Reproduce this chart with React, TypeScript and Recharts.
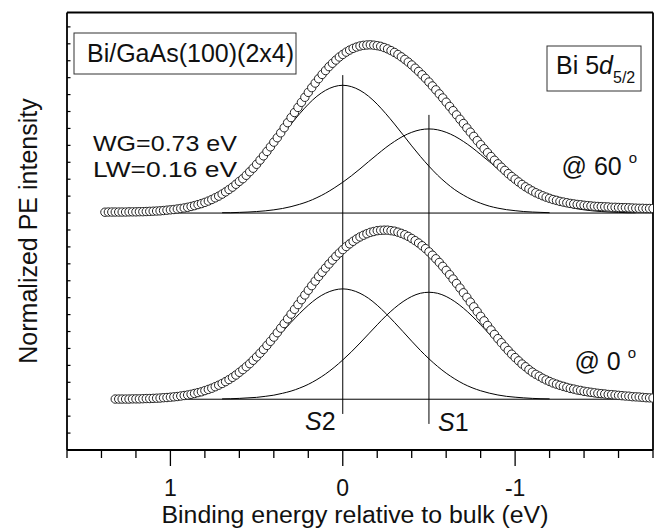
import {ComposedChart, Line, XAxis, YAxis, ReferenceLine} from 'recharts';

// binding energy grid of the measured points (eV, relative to bulk)
const energy = [
    1.38, 1.36, 1.34, 1.32, 1.30, 1.28, 1.26, 1.24, 1.22, 1.20,
    1.18, 1.16, 1.14, 1.12, 1.10, 1.08, 1.06, 1.04, 1.02, 1.00,
    0.98, 0.96, 0.94, 0.92, 0.90, 0.88, 0.86, 0.84, 0.82, 0.80,
    0.78, 0.76, 0.74, 0.72, 0.70, 0.68, 0.66, 0.64, 0.62, 0.60,
    0.58, 0.56, 0.54, 0.52, 0.50, 0.48, 0.46, 0.44, 0.42, 0.40,
    0.38, 0.36, 0.34, 0.32, 0.30, 0.28, 0.26, 0.24, 0.22, 0.20,
    0.18, 0.16, 0.14, 0.12, 0.10, 0.08, 0.06, 0.04, 0.02, 0.00,
    -0.02, -0.04, -0.06, -0.08, -0.10, -0.12, -0.14, -0.16, -0.18, -0.20,
    -0.22, -0.24, -0.26, -0.28, -0.30, -0.32, -0.34, -0.36, -0.38, -0.40,
    -0.42, -0.44, -0.46, -0.48, -0.50, -0.52, -0.54, -0.56, -0.58, -0.60,
    -0.62, -0.64, -0.66, -0.68, -0.70, -0.72, -0.74, -0.76, -0.78, -0.80,
    -0.82, -0.84, -0.86, -0.88, -0.90, -0.92, -0.94, -0.96, -0.98, -1.00,
    -1.02, -1.04, -1.06, -1.08, -1.10, -1.12, -1.14, -1.16, -1.18, -1.20,
    -1.22, -1.24, -1.26, -1.28, -1.30, -1.32, -1.34, -1.36, -1.38, -1.40,
    -1.42, -1.44, -1.46, -1.48, -1.50, -1.52, -1.54, -1.56, -1.58, -1.60,
    -1.62, -1.64, -1.66, -1.68, -1.70, -1.72, -1.74, -1.76, -1.78, -1.80,
];

// normalized intensity, emission angle 60 deg (starts at 1.38 eV)
const spectrum60 = [
    0.005, 0.006, 0.006, 0.006, 0.006, 0.006, 0.006, 0.007, 0.007, 0.007,
    0.008, 0.008, 0.009, 0.010, 0.011, 0.012, 0.013, 0.015, 0.017, 0.019,
    0.021, 0.024, 0.027, 0.030, 0.034, 0.039, 0.044, 0.050, 0.056, 0.063,
    0.071, 0.080, 0.090, 0.100, 0.112, 0.125, 0.139, 0.153, 0.170, 0.187,
    0.203, 0.223, 0.244, 0.265, 0.288, 0.313, 0.338, 0.364, 0.391, 0.419,
    0.445, 0.474, 0.504, 0.534, 0.564, 0.594, 0.624, 0.654, 0.684, 0.713,
    0.741, 0.768, 0.794, 0.819, 0.842, 0.865, 0.885, 0.904, 0.922, 0.937,
    0.951, 0.963, 0.973, 0.981, 0.987, 0.991, 0.993, 0.994, 0.992, 0.989,
    0.985, 0.978, 0.970, 0.960, 0.949, 0.937, 0.923, 0.908, 0.892, 0.875,
    0.856, 0.837, 0.817, 0.796, 0.774, 0.751, 0.728, 0.704, 0.680, 0.655,
    0.630, 0.605, 0.580, 0.554, 0.529, 0.503, 0.478, 0.453, 0.428, 0.404,
    0.380, 0.357, 0.334, 0.312, 0.291, 0.271, 0.252, 0.233, 0.216, 0.200,
    0.184, 0.169, 0.155, 0.143, 0.131, 0.120, 0.111, 0.102, 0.094, 0.087,
    0.080, 0.075, 0.069, 0.065, 0.061, 0.057, 0.054, 0.051, 0.049, 0.046,
    0.044, 0.042, 0.040, 0.039, 0.038, 0.037, 0.036, 0.034, 0.034, 0.033,
    0.032, 0.032, 0.031, 0.030, 0.029, 0.028, 0.028, 0.027, 0.027, 0.027,
];

// normalized intensity, normal emission (starts at 1.32 eV)
const spectrum0 = [
    0.001, 0.001, 0.001, 0.001, 0.001, 0.002, 0.002,
    0.002, 0.003, 0.004, 0.004, 0.005, 0.006, 0.007, 0.009, 0.010, 0.012,
    0.014, 0.016, 0.019, 0.022, 0.025, 0.029, 0.034, 0.039, 0.044, 0.051,
    0.058, 0.065, 0.074, 0.083, 0.093, 0.104, 0.116, 0.129, 0.143, 0.159,
    0.175, 0.192, 0.210, 0.230, 0.250, 0.272, 0.294, 0.318, 0.342, 0.367,
    0.393, 0.420, 0.447, 0.475, 0.503, 0.531, 0.559, 0.588, 0.616, 0.644,
    0.671, 0.698, 0.725, 0.750, 0.775, 0.799, 0.822, 0.844, 0.864, 0.884,
    0.902, 0.918, 0.933, 0.947, 0.959, 0.969, 0.978, 0.986, 0.991, 0.996,
    0.998, 0.999, 0.999, 0.996, 0.993, 0.987, 0.980, 0.972, 0.962, 0.950,
    0.937, 0.923, 0.907, 0.890, 0.871, 0.851, 0.830, 0.808, 0.785, 0.761,
    0.736, 0.710, 0.684, 0.657, 0.629, 0.602, 0.574, 0.546, 0.518, 0.490,
    0.463, 0.436, 0.409, 0.383, 0.358, 0.334, 0.310, 0.288, 0.266, 0.246,
    0.227, 0.208, 0.192, 0.175, 0.160, 0.147, 0.136, 0.124, 0.114, 0.105,
    0.096, 0.089, 0.082, 0.076, 0.070, 0.064, 0.060, 0.055, 0.052, 0.047,
    0.044, 0.041, 0.038, 0.035, 0.033, 0.031, 0.028, 0.027, 0.025, 0.023,
    0.021, 0.019, 0.018, 0.015, 0.014, 0.013, 0.011, 0.009, 0.008, 0.007,
];

// fitted components
const s2Energy = [
    1.20, 1.15, 1.10, 1.05, 1.00, 0.95, 0.90, 0.85, 0.80, 0.75, 0.70, 0.65, 0.60,
    0.55, 0.50, 0.45, 0.40, 0.35, 0.30, 0.25, 0.20, 0.15, 0.10, 0.05, 0,
    -0.05, -0.10, -0.15, -0.20, -0.25, -0.30, -0.35, -0.40, -0.45, -0.50, -0.55, -0.60,
    -0.65, -0.70, -0.75, -0.80, -0.85, -0.90, -0.95, -1.00, -1.05, -1.10, -1.15, -1.20,
];
const s1Energy = [
    0.70, 0.65, 0.60, 0.55, 0.50, 0.45, 0.40, 0.35, 0.30, 0.25, 0.20, 0.15, 0.10,
    0.05, 0, -0.05, -0.10, -0.15, -0.20, -0.25, -0.30, -0.35, -0.40, -0.45, -0.50,
    -0.55, -0.60, -0.65, -0.70, -0.75, -0.80, -0.85, -0.90, -0.95, -1.00, -1.05, -1.10,
    -1.15, -1.20, -1.25, -1.30, -1.35, -1.40, -1.45, -1.50, -1.55, -1.60, -1.65, -1.70,
];
const s2At60 = [
    0.002, 0.004, 0.006, 0.009, 0.014, 0.020, 0.029, 0.041, 0.058, 0.079, 0.106, 0.138, 0.178,
    0.224, 0.277, 0.335, 0.397, 0.462, 0.526, 0.587, 0.643, 0.690, 0.725, 0.747, 0.755,
    0.747, 0.725, 0.690, 0.643, 0.587, 0.526, 0.462, 0.397, 0.335, 0.277, 0.224, 0.178,
    0.138, 0.106, 0.079, 0.058, 0.041, 0.029, 0.020, 0.014, 0.009, 0.006, 0.004, 0.002,
];
const s1At60 = [
    0.002, 0.002, 0.004, 0.006, 0.009, 0.013, 0.019, 0.027, 0.038, 0.052, 0.069, 0.091, 0.117,
    0.148, 0.182, 0.220, 0.261, 0.304, 0.346, 0.387, 0.423, 0.454, 0.477, 0.492, 0.497,
    0.492, 0.477, 0.454, 0.423, 0.387, 0.346, 0.304, 0.261, 0.220, 0.182, 0.148, 0.117,
    0.091, 0.069, 0.052, 0.038, 0.027, 0.019, 0.013, 0.009, 0.006, 0.004, 0.002, 0.002,
];
const s2At0 = [
    0.002, 0.003, 0.005, 0.008, 0.012, 0.017, 0.025, 0.036, 0.050, 0.068, 0.091, 0.120, 0.154,
    0.194, 0.239, 0.289, 0.343, 0.399, 0.454, 0.507, 0.555, 0.596, 0.626, 0.645, 0.652,
    0.645, 0.626, 0.596, 0.555, 0.507, 0.454, 0.399, 0.343, 0.289, 0.239, 0.194, 0.154,
    0.120, 0.091, 0.068, 0.050, 0.036, 0.025, 0.017, 0.012, 0.008, 0.005, 0.003, 0.002,
];
const s1At0 = [
    0.002, 0.003, 0.005, 0.008, 0.011, 0.017, 0.024, 0.035, 0.048, 0.066, 0.088, 0.116, 0.149,
    0.188, 0.232, 0.280, 0.332, 0.386, 0.440, 0.492, 0.538, 0.577, 0.607, 0.626, 0.632,
    0.626, 0.607, 0.577, 0.538, 0.492, 0.440, 0.386, 0.332, 0.280, 0.232, 0.188, 0.149,
    0.116, 0.088, 0.066, 0.048, 0.035, 0.024, 0.017, 0.011, 0.008, 0.005, 0.003, 0.002,
];

// vertical offsets of the two spectra
const offset60 = 1.4;
const offset0 = 0.3;

// component positions and the extent of their marker lines
const s2Pos = 0;
const s1Pos = -0.5;
const s2Marker = [0.213, 2.215];
const s1Marker = [0.154, 1.98];

const xTicks = [1.6, 1.4, 1.2, 1.0, 0.8, 0.6, 0.4, 0.2, 0, -0.2, -0.4, -0.6, -0.8, -1.0, -1.2, -1.4, -1.6, -1.8];
const yTicks = [
    0.1, 0.2, 0.3, 0.4, 0.5, 0.6, 0.7, 0.8, 0.9, 1.0, 1.1, 1.2, 1.3,
    1.4, 1.5, 1.6, 1.7, 1.8, 1.9, 2.0, 2.1, 2.2, 2.3, 2.4, 2.5,
];
const xDomain = [-1.8, 1.6];
const yDomain = [0, 2.585];

const FONT = "'Liberation Sans', Arial, Helvetica, sans-serif";

const rows = (xs: number[], ys: number[], offset: number) =>
    ys.map((v, i) => ({e: xs[i], v: offset + v}));

const energy0 = energy.slice(energy.length - spectrum0.length);
const rows60 = rows(energy, spectrum60, offset60);
const rows0 = rows(energy0, spectrum0, offset0);

const isMajor = (v: number) => Math.abs(v - Math.round(v)) < 1e-6;

const BottomTick = ({x, y, payload}: any) => {
    const major = isMajor(payload.value);
    return (
        <g>
            <line x1={x} x2={x} y1={y} y2={y + (major ? 16 : 8)} stroke="#000" strokeWidth={1.3}/>
            {major && (
                <text x={x} y={y + 46} textAnchor="middle" fontSize={23} fontFamily={FONT} fill="#111">
                    {String(Math.round(payload.value))}
                </text>
            )}
        </g>
    );
};

const TopTick = ({x, y, payload}: any) => (
    <line x1={x} x2={x} y1={y} y2={y + (isMajor(payload.value) ? 16 : 8)} stroke="#000" strokeWidth={1.3}/>
);

const LeftTick = ({x, y}: any) => (
    <line x1={x} x2={x + 3.5} y1={y} y2={y} stroke="#000" strokeWidth={1.2}/>
);

const frame = {stroke: '#000', strokeWidth: 1.8};
const dotStyle = {r: 4.2, fill: '#fff', stroke: '#222', strokeWidth: 1};

export default function App() {
    return (
        <div style={{position: 'absolute', left: 0, top: 0, width: 660, height: 528, background: '#fff'}}>
            <ComposedChart width={660} height={528} margin={{top: 11.5, right: 6, bottom: 77, left: 66}}>
                <XAxis
                    type="number" dataKey="e" domain={xDomain} reversed allowDataOverflow
                    ticks={xTicks} interval={0} height={1} tickSize={0} tickMargin={0}
                    tickLine={false} axisLine={frame} tick={<BottomTick/>}
                />
                <XAxis
                    xAxisId="top" orientation="top" type="number" domain={xDomain} reversed allowDataOverflow
                    ticks={xTicks} interval={0} height={1} tickSize={0} tickMargin={0}
                    tickLine={false} axisLine={frame} tick={<TopTick/>}
                />
                <YAxis
                    type="number" domain={yDomain} allowDataOverflow ticks={yTicks} interval={0}
                    width={1} tickSize={0} tickMargin={0} tickLine={false} axisLine={frame} tick={<LeftTick/>}
                />
                <YAxis
                    yAxisId="right" orientation="right" type="number" domain={yDomain} allowDataOverflow
                    width={1} tick={false} tickLine={false} axisLine={frame}
                />

                <ReferenceLine segment={[{x: energy[0], y: offset60}, {x: xDomain[0], y: offset60}]}
                               stroke="#000" strokeWidth={1} ifOverflow="visible"/>
                <ReferenceLine segment={[{x: energy0[0], y: offset0}, {x: xDomain[0], y: offset0}]}
                               stroke="#000" strokeWidth={1} ifOverflow="visible"/>
                <ReferenceLine segment={[{x: s2Pos, y: s2Marker[0]}, {x: s2Pos, y: s2Marker[1]}]}
                               stroke="#000" strokeWidth={1} ifOverflow="visible"/>
                <ReferenceLine segment={[{x: s1Pos, y: s1Marker[0]}, {x: s1Pos, y: s1Marker[1]}]}
                               stroke="#000" strokeWidth={1} ifOverflow="visible"/>

                <Line data={rows(s2Energy, s2At60, offset60)} dataKey="v" type="monotone" dot={false}
                      stroke="#000" strokeWidth={1} isAnimationActive={false}/>
                <Line data={rows(s1Energy, s1At60, offset60)} dataKey="v" type="monotone" dot={false}
                      stroke="#000" strokeWidth={1} isAnimationActive={false}/>
                <Line data={rows(s2Energy, s2At0, offset0)} dataKey="v" type="monotone" dot={false}
                      stroke="#000" strokeWidth={1} isAnimationActive={false}/>
                <Line data={rows(s1Energy, s1At0, offset0)} dataKey="v" type="monotone" dot={false}
                      stroke="#000" strokeWidth={1} isAnimationActive={false}/>

                <Line data={rows60} dataKey="v" stroke="none" dot={dotStyle} activeDot={false}
                      isAnimationActive={false}/>
                <Line data={rows0} dataKey="v" stroke="none" dot={dotStyle} activeDot={false}
                      isAnimationActive={false}/>
                <Line data={rows60} dataKey="v" type="monotone" dot={false} stroke="#000" strokeWidth={1.1}
                      isAnimationActive={false}/>
                <Line data={rows0} dataKey="v" type="monotone" dot={false} stroke="#000" strokeWidth={1.1}
                      isAnimationActive={false}/>
            </ComposedChart>

            <svg width={660} height={528} style={{position: 'absolute', left: 0, top: 0, pointerEvents: 'none'}}
                 fontFamily={FONT} fontSize={25} fill="#111">
                <rect x={74} y={33} width={222} height={41} fill="#fff" stroke="#333" strokeWidth={1}/>
                <text x={87} y={62}>Bi/GaAs(100)(2x4)</text>
                <text x={93} y={151} fontSize={22} textLength={144} lengthAdjust="spacingAndGlyphs">WG=0.73 eV</text>
                <text x={93} y={177} fontSize={22} textLength={144} lengthAdjust="spacingAndGlyphs">LW=0.16 eV</text>

                <rect x={547} y={46} width={94} height={45} fill="#fff" stroke="#333" strokeWidth={1}/>
                <text x={556} y={74}>
                    Bi 5<tspan fontStyle="italic">d</tspan><tspan fontSize={16} dy={9}>5/2</tspan>
                </text>

                <text x={637} y={175} textAnchor="end">@ 60 <tspan fontSize={15} dy={-12}>o</tspan></text>
                <text x={636} y={370} textAnchor="end">@ 0 <tspan fontSize={15} dy={-12}>o</tspan></text>

                <text x={305} y={430}><tspan fontStyle="italic">S</tspan>2</text>
                <text x={438} y={431}><tspan fontStyle="italic">S</tspan>1</text>

                <text transform="translate(37,231) rotate(-90)" textAnchor="middle">Normalized PE intensity</text>
                <text x={355} y={523} fontSize={23} textAnchor="middle" textLength={387}
                      lengthAdjust="spacingAndGlyphs">Binding energy relative to bulk (eV)</text>
            </svg>
        </div>
    );
}
